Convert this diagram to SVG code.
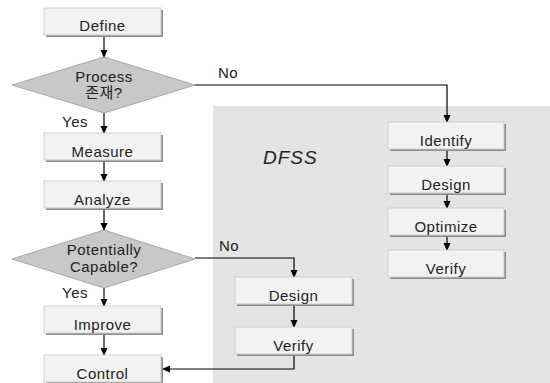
<svg xmlns="http://www.w3.org/2000/svg" width="550" height="383" viewBox="0 0 550 383">
<defs>
<marker id="ah" markerWidth="8" markerHeight="8" refX="7" refY="4" orient="auto" markerUnits="userSpaceOnUse">
<path d="M0,0.5 L8,4 L0,7.5 Z" fill="#000"/>
</marker>
<style>
.sh{fill:#8c8c8c}
.bx{fill:#f2f2f2;stroke:#cfcfcf;stroke-width:1}
.dm{fill:#c8c8c8;stroke:#a8a8a8;stroke-width:1}
.t{font-family:"Liberation Sans","Noto Sans CJK KR",sans-serif;font-size:15px;fill:#222;text-anchor:middle;letter-spacing:0.5px}
.l{font-family:"Liberation Sans",sans-serif;font-size:15px;fill:#222;letter-spacing:0.5px}
.c{fill:none;stroke:#000;stroke-width:1.2}
</style>
</defs>
<rect x="0" y="0" width="550" height="383" fill="#fff"/>
<rect id="dfss-region" x="213" y="106" width="337" height="277" fill="#e4e4e4"/>
<text x="263" y="164" class="l" style="font-size:19px;font-style:italic;letter-spacing:1px">DFSS</text>

<g id="connectors">
<line class="c" x1="104" y1="35" x2="104" y2="57" marker-end="url(#ah)"/>
<line class="c" x1="104" y1="113" x2="104" y2="133" marker-end="url(#ah)"/>
<line class="c" x1="104" y1="161" x2="104" y2="181" marker-end="url(#ah)"/>
<line class="c" x1="104" y1="209" x2="104" y2="230" marker-end="url(#ah)"/>
<line class="c" x1="104" y1="288" x2="104" y2="306" marker-end="url(#ah)"/>
<line class="c" x1="104" y1="334" x2="104" y2="355" marker-end="url(#ah)"/>
<path class="c" d="M195,85 H447 V122" marker-end="url(#ah)"/>
<path class="c" d="M195,258 H294 V277" marker-end="url(#ah)"/>
<line class="c" x1="447" y1="150" x2="447" y2="166" marker-end="url(#ah)"/>
<line class="c" x1="447" y1="194" x2="447" y2="208" marker-end="url(#ah)"/>
<line class="c" x1="447" y1="236" x2="447" y2="250" marker-end="url(#ah)"/>
<line class="c" x1="294" y1="305" x2="294" y2="327" marker-end="url(#ah)"/>
<path class="c" d="M294,355 V369 H163" marker-end="url(#ah)"/>
</g>

<text x="218" y="78" class="l">No</text>
<text x="219" y="251" class="l">No</text>
<text x="62" y="127" class="l">Yes</text>
<text x="62" y="298" class="l">Yes</text>

<g id="define"><rect class="sh" x="46" y="10" width="117" height="27"/><rect class="bx" x="44" y="8" width="117" height="27"/><text class="t" x="102.5" y="31">Define</text></g>
<g id="process"><polygon class="dm" points="104,57 195,85 104,113 12,85"/><text class="t" x="104" y="82">Process</text><text class="t" x="104" y="98">존재?</text></g>
<g id="measure"><rect class="sh" x="46" y="135" width="117" height="27"/><rect class="bx" x="44" y="133" width="117" height="27"/><text class="t" x="102.5" y="157">Measure</text></g>
<g id="analyze"><rect class="sh" x="46" y="183" width="117" height="27"/><rect class="bx" x="44" y="181" width="117" height="27"/><text class="t" x="102.5" y="205">Analyze</text></g>
<g id="capable"><polygon class="dm" points="104,230 195,259 104,288 12,259"/><text class="t" x="104" y="255">Potentially</text><text class="t" x="104" y="272">Capable?</text></g>
<g id="improve"><rect class="sh" x="46" y="308" width="117" height="27"/><rect class="bx" x="44" y="306" width="117" height="27"/><text class="t" x="102.5" y="330">Improve</text></g>
<g id="control"><rect class="sh" x="46" y="357" width="117" height="27"/><rect class="bx" x="44" y="355" width="117" height="27"/><text class="t" x="102.5" y="379">Control</text></g>

<g id="identify"><rect class="sh" x="390" y="124" width="116" height="27"/><rect class="bx" x="388" y="122" width="116" height="27"/><text class="t" x="446" y="146">Identify</text></g>
<g id="design-r"><rect class="sh" x="390" y="168" width="116" height="27"/><rect class="bx" x="388" y="166" width="116" height="27"/><text class="t" x="446" y="190">Design</text></g>
<g id="optimize"><rect class="sh" x="390" y="210" width="116" height="27"/><rect class="bx" x="388" y="208" width="116" height="27"/><text class="t" x="446" y="232">Optimize</text></g>
<g id="verify-r"><rect class="sh" x="390" y="252" width="116" height="27"/><rect class="bx" x="388" y="250" width="116" height="27"/><text class="t" x="446" y="274">Verify</text></g>

<g id="design-m"><rect class="sh" x="237" y="279" width="117" height="27"/><rect class="bx" x="235" y="277" width="117" height="27"/><text class="t" x="293.5" y="301">Design</text></g>
<g id="verify-m"><rect class="sh" x="237" y="329" width="117" height="27"/><rect class="bx" x="235" y="327" width="117" height="27"/><text class="t" x="293.5" y="351">Verify</text></g>
</svg>
